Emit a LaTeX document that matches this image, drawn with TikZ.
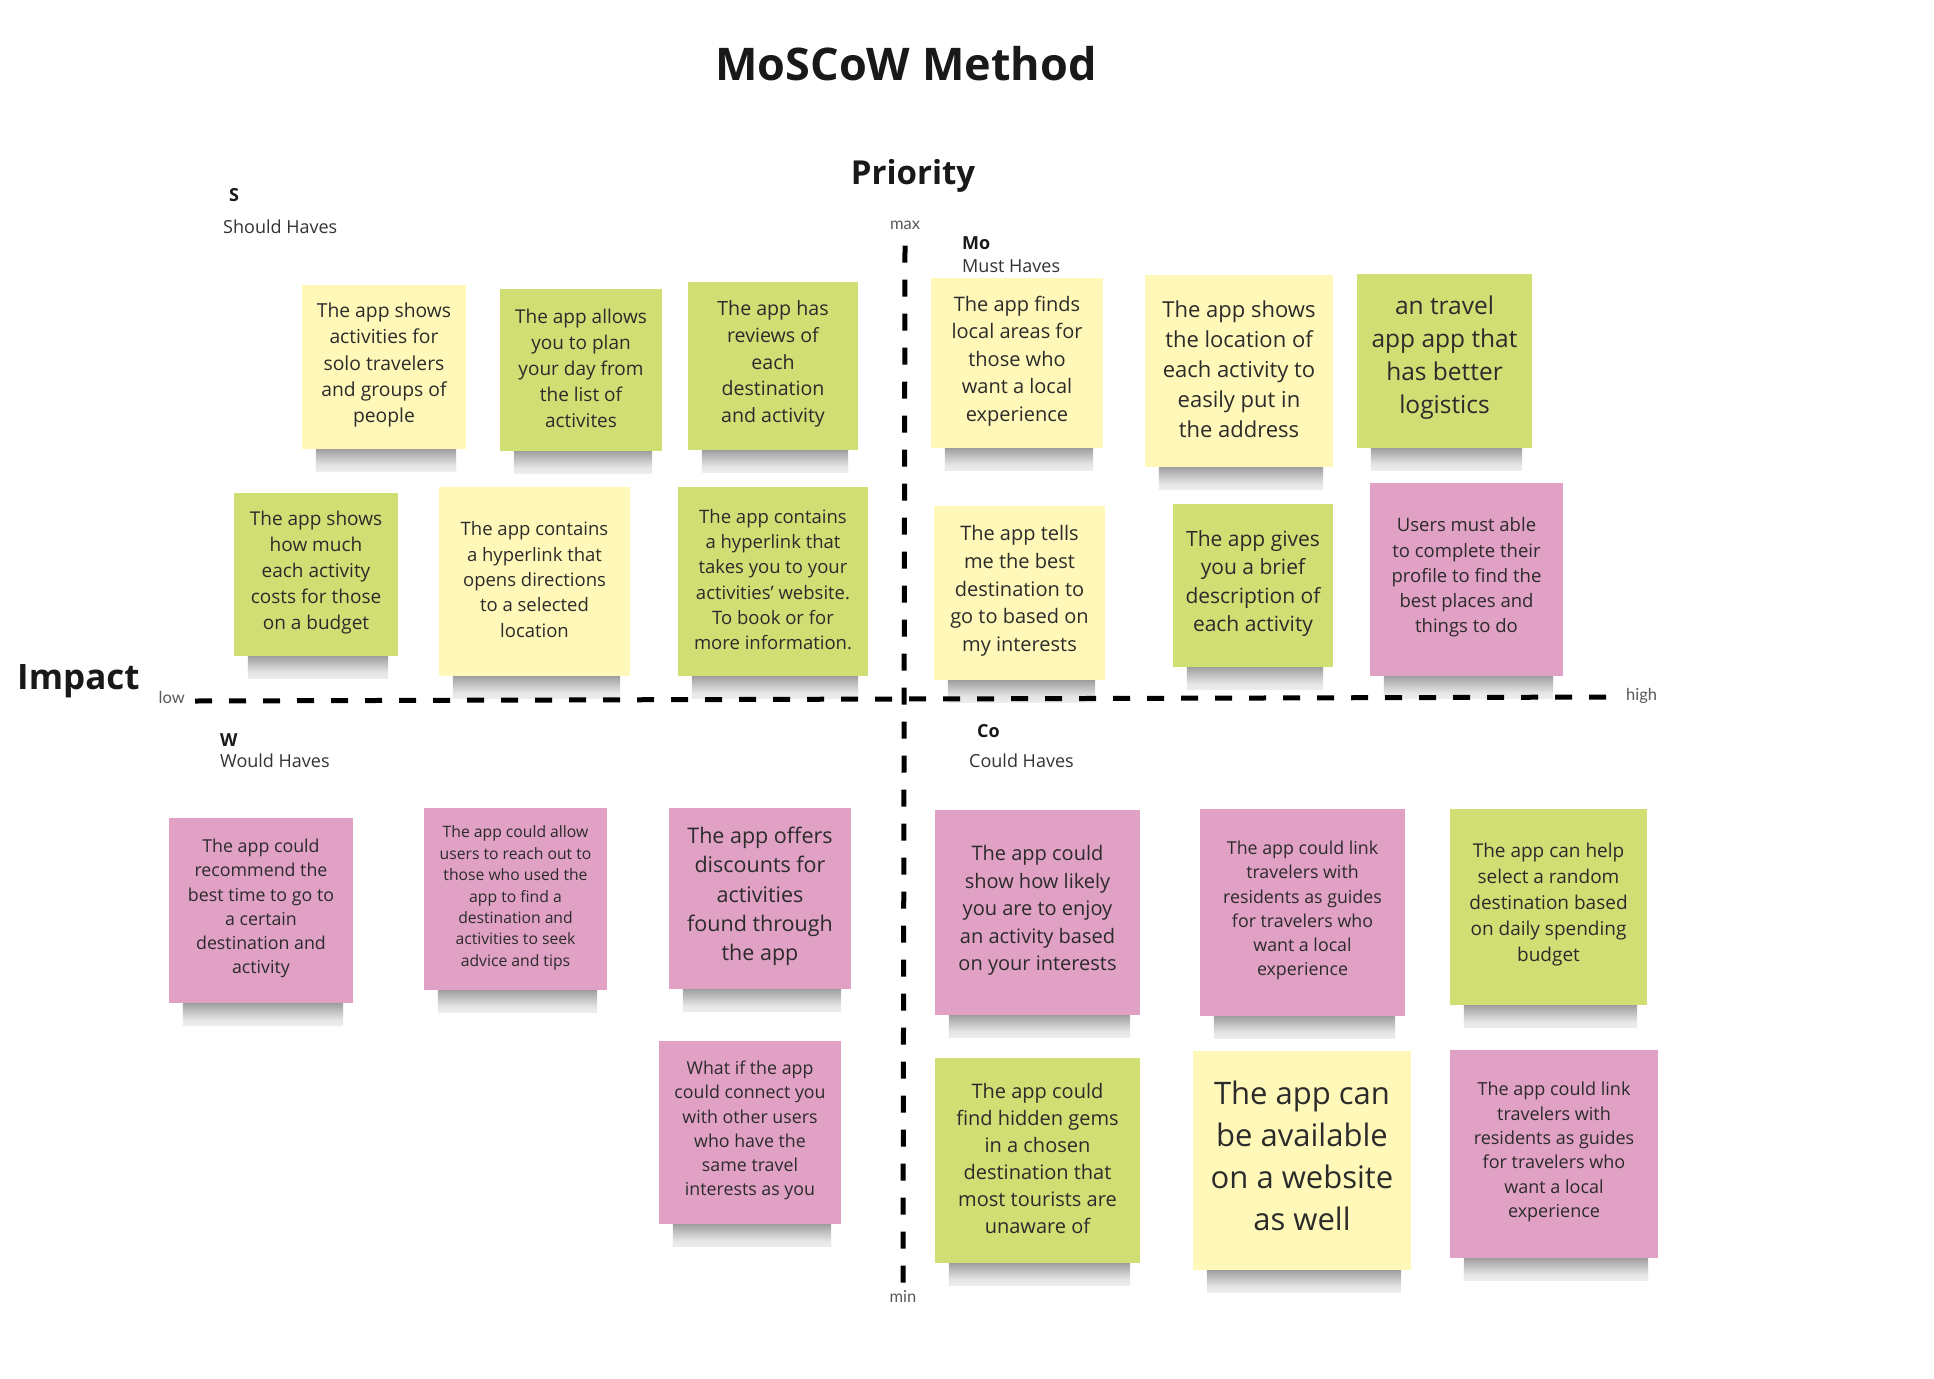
\documentclass[tikz,border=0pt]{standalone}
\usepackage{fontspec}
\setmainfont{Open Sans}
\newfontfamily\latofont{Lato}
\usetikzlibrary{backgrounds}

\definecolor{noteyellow}{HTML}{FFF8B8}
\definecolor{notegreen}{HTML}{D1DE74}
\definecolor{notepink}{HTML}{E0A1C4}
\definecolor{inkgray}{HTML}{2B2B2B}

\pgfdeclareverticalshading{dropshade}{100bp}{color(0bp)=(white); color(35bp)=(black!10);
  color(62bp)=(black!35); color(80bp)=(black!58); color(100bp)=(black!62)}

\begin{document}
\begin{tikzpicture}[x=1pt, y=-1pt,
  note/.style={rectangle, fill=#1, inner sep=0pt},
  fs/.style 2 args={font=\fontsize{#1}{#2}\selectfont},
  notetext/.style={align=center, text=inkgray, inner sep=0pt},
  quadletter/.style={anchor=west, inner sep=0pt, text=black!90,
    font=\bfseries\fontsize{18}{22}\selectfont},
  quadname/.style={anchor=west, inner sep=0pt, text=black!80,
    font=\fontsize{18}{22}\selectfont},
  axislabel/.style={inner sep=0pt, text=black!65,
    font=\latofont\fontsize{16.5}{20}\selectfont},
  axisline/.style={line width=5pt, dash pattern=on 17pt off 17pt},
  dropshadow/.style={shading=dropshade}]

  \useasboundingbox (0,0) rectangle (1934,1378);

  % Titles
  \node[font=\bfseries\fontsize{45}{52}\selectfont, text=black!90] (title) at (906,64) {MoSCoW Method};
  \node[font=\bfseries\fontsize{33}{38}\selectfont, text=black!90] (prio) at (913,176) {Priority};
  \node[anchor=west, inner sep=0pt, font=\bfseries\fontsize{35}{40}\selectfont, text=black!90] (impact) at (17,681) {Impact};

  % Axis labels
  \node[axislabel] (max) at (905,225) {max};
  \node[axislabel] (min) at (903,1296) {min};
  \node[axislabel, anchor=east] (lo) at (185,697) {low};
  \node[axislabel, anchor=west] (hi) at (1626,696) {high};

  % Axes
  \draw[axisline] ([yshift=-4pt, xshift=10pt]lo.east) -- ([yshift=-1pt, xshift=-10pt]hi.west);
  \draw[axisline] ([yshift=-16pt]max.south) -- ([yshift=6pt]min.north);

  % Quadrant names
  \node[quadletter] (sq) at (229,195) {S};
  \node[quadname] (sqn) at (223,227) {Should Haves};
  \node[quadletter] (mq) at (962,243) {Mo};
  \node[quadname] (mqn) at (962,266) {Must Haves};
  \node[quadletter] (wq) at (220,740) {W};
  \node[quadname] (wqn) at (220,761) {Would Haves};
  \node[quadletter] (cq) at (977,731) {Co};
  \node[quadname] (cqn) at (969,761) {Could Haves};

  % Should haves
  \node[note=noteyellow, minimum width=164, minimum height=164] (s1) at (384,367) {};
  \node[notetext, fs={19.3}{26.3}] (s1t) at ([yshift=2pt]s1.center) {The app shows\\activities for\\solo travelers\\and groups of\\people};
  \node[note=notegreen, minimum width=162, minimum height=162] (s2) at (581,370) {};
  \node[notetext, fs={19}{26}] (s2t) at ([yshift=2pt]s2.center) {The app allows\\you to plan\\your day from\\the list of\\activites};
  \node[note=notegreen, minimum width=170, minimum height=168] (s3) at (773,366) {};
  \node[notetext, fs={19.6}{26.8}] (s3t) at ([yshift=2pt]s3.center) {The app has\\reviews of\\each\\destination\\and activity};
  \node[note=notegreen, minimum width=164, minimum height=163] (s4) at (316,574.5) {};
  \node[notetext, fs={19}{26}] (s4t) at ([yshift=2pt]s4.center) {The app shows\\how much\\each activity\\costs for those\\on a budget};
  \node[note=noteyellow, minimum width=191, minimum height=189] (s5) at (534.5,581.5) {};
  \node[notetext, fs={18.5}{25.3}] (s5t) at ([yshift=2pt]s5.center) {The app contains\\a hyperlink that\\opens directions\\to a selected\\location};
  \node[note=notegreen, minimum width=190, minimum height=189] (s6) at (773,581.5) {};
  \node[notetext, fs={18.5}{25.2}] (s6t) at ([yshift=2pt]s6.center) {The app contains\\a hyperlink that\\takes you to your\\activities' website.\\To book or for\\more information.};

  % Must haves
  \node[note=noteyellow, minimum width=172, minimum height=170] (m1) at (1017,363) {};
  \node[notetext, fs={20}{27.5}] (m1t) at ([yshift=2pt]m1.center) {The app finds\\local areas for\\those who\\want a local\\experience};
  \node[note=noteyellow, minimum width=188, minimum height=192] (m2) at (1239,371) {};
  \node[notetext, fs={22}{30}] (m2t) at ([yshift=2pt]m2.center) {The app shows\\the location of\\each activity to\\easily put in\\the address};
  \node[note=notegreen, minimum width=175, minimum height=174] (m3) at (1444.5,361) {};
  \node[notetext, fs={24.5}{33}] (m3t) at ([yshift=3pt]m3.center) {an travel\\app app that\\has better\\logistics};
  \node[note=noteyellow, minimum width=171, minimum height=174] (m4) at (1019.5,593) {};
  \node[notetext, fs={20}{27.7}] (m4t) at ([yshift=2pt]m4.center) {The app tells\\me the best\\destination to\\go to based on\\my interests};
  \node[note=notegreen, minimum width=160, minimum height=163] (m5) at (1253,585.5) {};
  \node[notetext, fs={21}{28.4}] (m5t) at ([yshift=2pt]m5.center) {The app gives\\you a brief\\description of\\each activity};
  \node[note=notepink, minimum width=193, minimum height=193] (m6) at (1466.5,579.5) {};
  \node[notetext, fs={18.5}{25.3}] (m6t) at ([yshift=2pt]m6.center) {Users must able\\to complete their\\profile to find the\\best places and\\things to do};

  % Would haves
  \node[note=notepink, minimum width=184, minimum height=185] (w1) at (261,910.5) {};
  \node[notetext, fs={17.8}{24.2}] (w1t) at ([yshift=2pt]w1.center) {The app could\\recommend the\\best time to go to\\a certain\\destination and\\activity};
  \node[note=notepink, minimum width=183, minimum height=182] (w2) at (515.5,899) {};
  \node[notetext, fs={15.7}{21.4}] (w2t) at ([yshift=1pt]w2.center) {The app could allow\\users to reach out to\\those who used the\\app to find a\\destination and\\activities to seek\\advice and tips};
  \node[note=notepink, minimum width=182, minimum height=181] (w3) at (760,898.5) {};
  \node[notetext, fs={21.5}{29.3}] (w3t) at ([yshift=2pt]w3.center) {The app offers\\discounts for\\activities\\found through\\the app};
  \node[note=notepink, minimum width=182, minimum height=183] (w4) at (750,1132.5) {};
  \node[notetext, fs={17.8}{24.2}] (w4t) at ([yshift=2pt]w4.center) {What if the app\\could connect you\\with other users\\who have the\\same travel\\interests as you};

  % Could haves
  \node[note=notepink, minimum width=205, minimum height=205] (c1) at (1037.5,912.5) {};
  \node[notetext, fs={20}{27.5}] (c1t) at ([yshift=2pt]c1.center) {The app could\\show how likely\\you are to enjoy\\an activity based\\on your interests};
  \node[note=notepink, minimum width=205, minimum height=207] (c2) at (1302.5,912.5) {};
  \node[notetext, fs={17.8}{24.2}] (c2t) at ([yshift=2pt]c2.center) {The app could link\\travelers with\\residents as guides\\for travelers who\\want a local\\experience};
  \node[note=notegreen, minimum width=197, minimum height=196] (c3) at (1548.5,907) {};
  \node[notetext, fs={19}{26}] (c3t) at ([yshift=2pt]c3.center) {The app can help\\select a random\\destination based\\on daily spending\\budget};
  \node[note=notegreen, minimum width=205, minimum height=205] (c4) at (1037.5,1160.5) {};
  \node[notetext, fs={20}{27.1}] (c4t) at ([yshift=2pt]c4.center) {The app could\\find hidden gems\\in a chosen\\destination that\\most tourists are\\unaware of};
  \node[note=noteyellow, minimum width=218, minimum height=219] (c5) at (1302,1160.5) {};
  \node[notetext, fs={31}{42}] (c5t) at ([yshift=5pt]c5.center) {The app can\\be available\\on a website\\as well};
  \node[note=notepink, minimum width=208, minimum height=208] (c6) at (1554,1154) {};
  \node[notetext, fs={18}{24.4}] (c6t) at ([yshift=2pt]c6.center) {The app could link\\travelers with\\residents as guides\\for travelers who\\want a local\\experience};

  % Soft shadows below the notes
  \begin{scope}[on background layer]
    \fill[white] (0,0) rectangle (1934,1378);
    \foreach \n in {s1,s2,s3,s4,s5,s6,m1,m2,m3,m4,m5,m6,w1,w2,w3,w4,c1,c2,c3,c4,c5,c6}
      \shade[dropshadow] ([xshift=14pt, yshift=6pt]\n.south west) rectangle ([xshift=-10pt, yshift=-22pt]\n.south east);
  \end{scope}
\end{tikzpicture}
\end{document}
